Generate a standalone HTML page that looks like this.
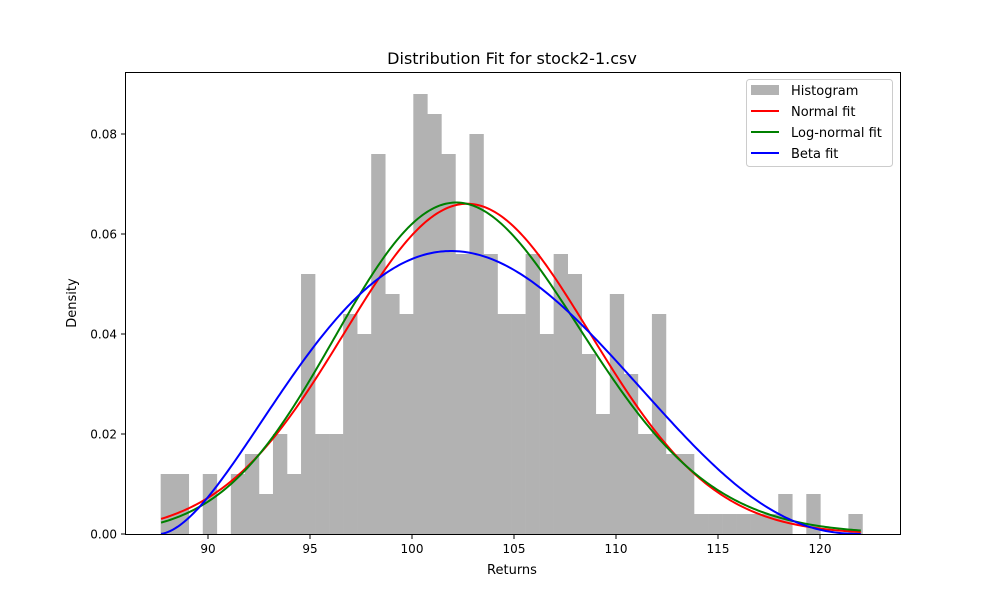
<!DOCTYPE html>
<html><head><meta charset="utf-8"><style>
body{margin:0;background:#fff;}
svg text{font-family:"DejaVu Sans","Liberation Sans",sans-serif;fill:#000;}
</style></head><body>
<svg id="chart" width="1000" height="600" xmlns="http://www.w3.org/2000/svg">
<rect width="1000" height="600" fill="#fff"/>
<text x="512" y="64" font-size="16" text-anchor="middle">Distribution Fit for stock2-1.csv</text>
<g id="bars"></g>
<g id="curves"></g>
<rect x="125.5" y="72.5" width="775" height="462" fill="none" stroke="#000" stroke-width="1"/>
<g id="xticks"></g>
<g id="yticks"></g>
<text x="512" y="574" font-size="13" text-anchor="middle">Returns</text>
<text x="0" y="0" font-size="13" text-anchor="middle" transform="translate(76,303) rotate(-90)">Density</text>
<g>
<rect x="746.5" y="79.5" width="146" height="87" rx="3" fill="#fff" fill-opacity="0.8" stroke="#ccc"/>
<rect x="751" y="85" width="28" height="10" fill="#b2b2b2"/>
<text x="791" y="95" font-size="13">Histogram</text>
<line x1="751" y1="111" x2="779" y2="111" stroke="red" stroke-width="2"/>
<text x="791" y="116" font-size="13">Normal fit</text>
<line x1="751" y1="132" x2="779" y2="132" stroke="green" stroke-width="2"/>
<text x="791" y="137" font-size="13">Log-normal fit</text>
<line x1="751" y1="153" x2="779" y2="153" stroke="blue" stroke-width="2"/>
<text x="791" y="158" font-size="13">Beta fit</text>
</g>
</svg>
<script>
const binStart = 87.68;
const binWidth = 0.688;
const densities = [0.012,0.012,0,0.012,0,0.012,0.016,0.008,0.020,0.012,0.052,0.020,0.020,0.044,0.040,0.076,0.048,0.044,0.088,0.084,0.076,0.056,0.080,0.056,0.044,0.044,0.056,0.040,0.056,0.052,0.036,0.024,0.048,0.032,0.020,0.044,0.016,0.016,0.004,0.004,0.004,0.004,0.004,0.004,0.008,0,0.008,0,0,0.004];
const xTicks = [90,95,100,105,110,115,120];
const yTicks = [0,0.02,0.04,0.06,0.08];
const normalParams = [102.7, 6.04];
const lognormParams = [0.0588];
const betaParams = [2.8, 3.55, 87.6, 34.6];
const xRange = [87.7, 122.0];

const NS="http://www.w3.org/2000/svg";
const sx = v => 208 + (v-90)*20.4;
const sy = v => 534 - v*5000;
function mk(t,a,p){const e=document.createElementNS(NS,t);for(const k in a)e.setAttribute(k,a[k]);p.appendChild(e);return e;}
const bars=document.getElementById('bars');
densities.forEach((d,i)=>{
  if(d<=0) return;
  const x0=sx(binStart+i*binWidth), x1=sx(binStart+(i+1)*binWidth);
  const r=mk('rect',{x:x0,y:sy(d),width:x1-x0+0.3,height:sy(0)-sy(d),fill:'#b2b2b2'},bars);
  
  
});
const xt=document.getElementById('xticks');
xTicks.forEach(v=>{
  mk('line',{x1:sx(v),x2:sx(v),y1:534.5,y2:539,stroke:'#000'},xt);
  const t=mk('text',{x:sx(v),y:553,'font-size':12,'text-anchor':'middle'},xt);t.textContent=v;
  
  
});
const yt=document.getElementById('yticks');
yTicks.forEach(v=>{
  mk('line',{x1:121,x2:125.5,y1:sy(v),y2:sy(v),stroke:'#000'},yt);
  const t=mk('text',{x:117,y:sy(v)+4.5,'font-size':12,'text-anchor':'end'},yt);t.textContent=v.toFixed(2);
  
  
});
function lgamma(z){const g=7,c=[0.99999999999980993,676.5203681218851,-1259.1392167224028,771.32342877765313,-176.61502916214059,12.507343278686905,-0.13857109526572012,9.9843695780195716e-6,1.5056327351493116e-7];
 z-=1;let x=c[0];for(let i=1;i<g+2;i++)x+=c[i]/(z+i);const t=z+g+0.5;return 0.5*Math.log(2*Math.PI)+(z+0.5)*Math.log(t)-t+Math.log(x);}
const normal=x=>Math.exp(-0.5*((x-normalParams[0])/normalParams[1])**2)/(normalParams[1]*Math.sqrt(2*Math.PI));
const s=lognormParams[0], mu=Math.log(normalParams[0])-s*s/2;
const lognorm=x=>Math.exp(-((Math.log(x)-mu)**2)/(2*s*s))/(x*s*Math.sqrt(2*Math.PI));
const [a,b,loc,sc]=betaParams;const lB=lgamma(a)+lgamma(b)-lgamma(a+b);
const beta=x=>{const u=(x-loc)/sc;if(u<=0||u>=1)return 0;return Math.exp((a-1)*Math.log(u)+(b-1)*Math.log(1-u)-lB)/sc;};
const cv=document.getElementById('curves');
[[normal,'red','normal-fit-line'],[lognorm,'green','lognormal-fit-line'],[beta,'blue','beta-fit-line']].forEach(([f,c,n])=>{
  let d='';for(let i=0;i<=300;i++){const x=xRange[0]+(xRange[1]-xRange[0])*i/300;d+=(i?'L':'M')+sx(x).toFixed(2)+','+sy(f(x)).toFixed(2);}
  const p=mk('path',{d:d,fill:'none',stroke:c,'stroke-width':2},cv);
  
  
});
</script>
</body></html>
